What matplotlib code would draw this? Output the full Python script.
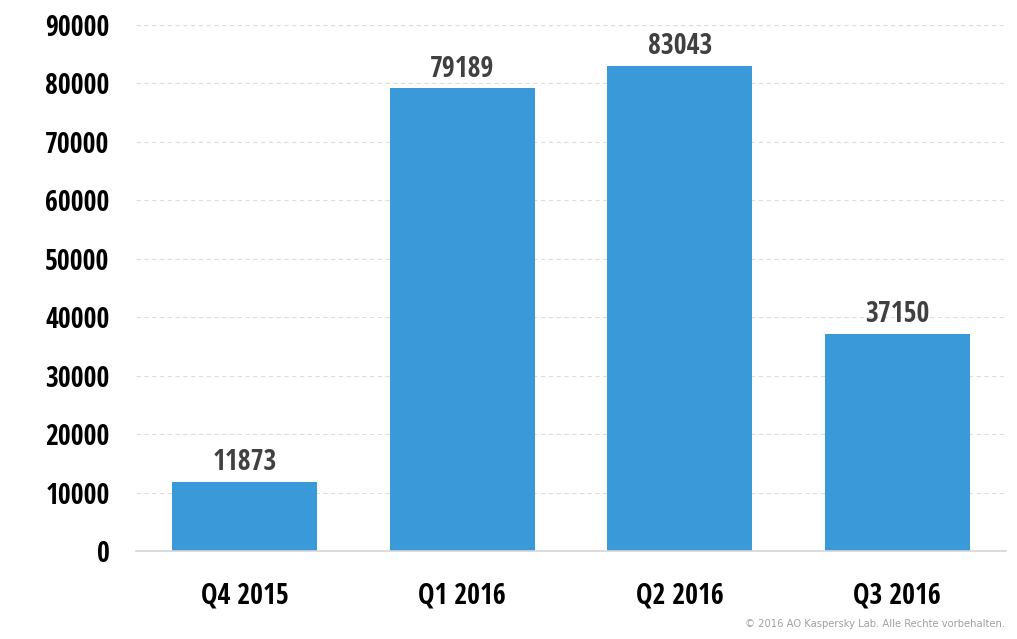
import matplotlib.pyplot as plt

quarters = ['Q4 2015', 'Q1 2016', 'Q2 2016', 'Q3 2016']
values = [11873, 79189, 83043, 37150]
yticks = [0, 10000, 20000, 30000, 40000, 50000, 60000, 70000, 80000, 90000]

label_font = dict(family=['Open Sans Condensed', 'DejaVu Sans'], weight='bold')

fig = plt.figure(figsize=(10.17, 6.39), dpi=100)
ax = fig.add_axes([136 / 1017, 1 - 551 / 639, 870 / 1017, 526 / 639])

bars = ax.bar(range(len(quarters)), values, width=0.667, color='#3a99d8', zorder=2)
for b, v in zip(bars, values):
    ax.text(b.get_x() + b.get_width() / 2, v + 800, str(v), ha='center', va='bottom',
            fontsize=20, color='#404040', **label_font)

ax.set_xlim(-0.5, len(quarters) - 0.5)
ax.set_ylim(0, 90000)
ax.set_yticks(yticks)
ax.set_yticklabels([str(t) for t in yticks], fontsize=20, **label_font)
ax.set_xticks(range(len(quarters)))
ax.set_xticklabels(quarters, fontsize=20, **label_font)
ax.tick_params(axis='both', length=0)
ax.tick_params(axis='y', pad=19)
ax.tick_params(axis='x', pad=22)

ax.yaxis.grid(True, linestyle=(0, (4, 3)), color='#dddddd', linewidth=0.8, zorder=0)
for s in ['top', 'right', 'left']:
    ax.spines[s].set_visible(False)
ax.spines['bottom'].set_color('#d5d5d5')
ax.spines['bottom'].set_linewidth(1.2)

fig.text(1005 / 1017, 1 - 624 / 639, '\u00a9 2016 AO Kaspersky Lab. Alle Rechte vorbehalten.',
         ha='right', va='center', fontsize=7.2, color='#a0a0a0', family='DejaVu Sans')

fig.savefig('out.png', dpi=100)
